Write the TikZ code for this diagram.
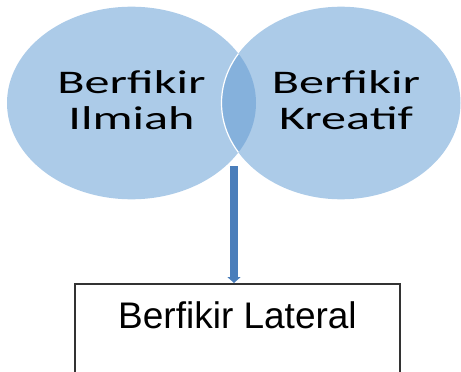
\documentclass[tikz,border=0pt]{standalone}
\usepackage{fontspec}
\newfontfamily\vennfont[FakeStretch=1.52]{Carlito}
\newfontfamily\boxfont{Liberation Sans}
\usepackage{tikz}
\usetikzlibrary{shapes,arrows.meta,positioning,calc}

\definecolor{vennblue}{RGB}{172,203,232}
\definecolor{lensblue}{RGB}{133,177,220}
\definecolor{arrowblue}{RGB}{74,126,187}

\begin{document}
\begin{tikzpicture}[x=1pt, y=-1pt,
    circ/.style={ellipse, fill=vennblue, inner sep=0pt},
    circtext/.style={align=center, yshift=3pt,
        font=\vennfont\fontsize{33}{36}\selectfont},
    outcome/.style={rectangle, draw=black!80, line width=1.5pt, inner sep=0pt,
        minimum width=325pt, text height=45pt, text depth=72pt,
        font=\boxfont\fontsize{37}{40}\selectfont},
    arrow/.style={-{Triangle[width=13pt,length=6pt]}, line width=8pt, arrowblue}
]
\useasboundingbox (0,0) rectangle (461,372);
\clip (0,0) rectangle (461,372);

% Circles
\node[circ, minimum width=249pt, minimum height=192.6pt] (ilmiah) at (131.5,103) {};
\node[circ, minimum width=239pt, minimum height=192.6pt] (kreatif) at (341,103) {};

% Overlap
\begin{scope}
\clip (ilmiah.center) ellipse [x radius=124.5, y radius=96.3];
\fill[lensblue] (kreatif.center) ellipse [x radius=119.5, y radius=96.3];
\draw[white, line width=1.2pt] (kreatif.center) ellipse [x radius=119.5, y radius=96.3];
\end{scope}

% Labels
\node[circtext] (ilmiahtext) at (ilmiah.center) {Berfikir\\Ilmiah};
\node[circtext, xshift=5pt] (kreatiftext) at (kreatif.center) {Berfikir\\Kreatif};

% Result
\node[outcome, anchor=north] (lateral) at (237.5,283) {Berfikir Lateral};

% Arrow
\coordinate (start) at (234,166);
\draw[arrow] (start) -- (start |- lateral.north);

\end{tikzpicture}
\end{document}
